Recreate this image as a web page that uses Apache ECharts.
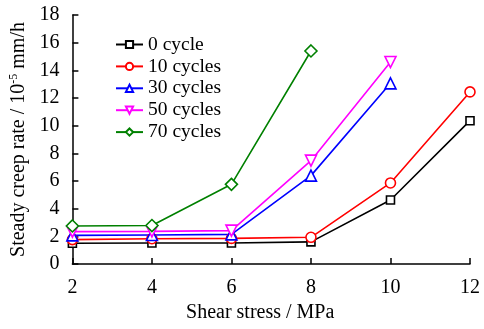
<!DOCTYPE html>
<html><head><meta charset="utf-8">
<script src="https://cdn.jsdelivr.net/npm/echarts@6/dist/echarts.min.js"></script>
<style>html,body{margin:0;padding:0;background:#fff}#c{width:484px;height:329px}</style>
</head><body><div id="c"></div>
<script>
var stress = [2, 4, 6, 8, 10, 12];
var yTicks = [0, 2, 4, 6, 8, 10, 12, 14, 16, 18];
var seriesNames = ['0 cycle', '10 cycles', '30 cycles', '50 cycles', '70 cycles'];
var cycle0  = [1.50, 1.52, 1.52, 1.60, 4.63, 10.36];
var cycle10 = [1.76, 1.83, 1.85, 1.93, 5.86, 12.44];
var cycle30 = [2.07, 2.10, 2.14, 6.39, 13.06];
var cycle50 = [2.34, 2.36, 2.41, 7.47, 14.60];
var cycle70 = [2.75, 2.78, 5.76, 15.40];

var font = '"Liberation Serif","Times New Roman",serif';
var fs = 20;
function pairs(vals){ return vals.map(function(v,i){ return [stress[i], v]; }); }
function mk(name, vals, color, symbol, size, rot){
  return {
    name: name, type: 'line', data: pairs(vals),
    symbol: symbol, symbolSize: size, symbolRotate: rot || 0,
    showAllSymbol: true,
    lineStyle: {color: color, width: 1.6},
    itemStyle: {color: '#fff', borderColor: color, borderWidth: 1.6},
    emphasis: {disabled: true}, animation: false
  };
}
var chart = echarts.init(document.getElementById('c'), null, {renderer: 'canvas'});
chart.setOption({
  backgroundColor: '#fff',
  animation: false,
  grid: {left: 72, right: 14, top: 15, bottom: 65},
  legend: {
    orient: 'vertical', left: 110, top: 29.5,
    itemWidth: 27, itemHeight: 9, itemGap: 1.9,
    textStyle: {fontFamily: font, fontSize: 19.5, color: '#000'},
    data: seriesNames
  },
  xAxis: {
    type: 'value', min: 2, max: 12, interval: 2,
    name: 'Shear stress / MPa', nameLocation: 'middle', nameGap: 35,
    nameTextStyle: {fontFamily: font, fontSize: fs, color: '#000', padding: [0, 22, 0, 0]},
    axisLine: {show: true, lineStyle: {color: '#000', width: 1.5}},
    axisTick: {show: true, inside: true, length: 6, lineStyle: {color: '#000', width: 1.5}},
    axisLabel: {fontFamily: font, fontSize: fs, color: '#000', margin: 14,
      formatter: function(v){ return stress.indexOf(v) >= 0 ? String(v) : ''; }},
    splitLine: {show: false}
  },
  yAxis: {
    type: 'value', min: 0, max: 18, interval: 2,
    name: '{n|Steady creep rate / 10}{s|-5}{n| mm/h}', nameLocation: 'middle', nameGap: 34,
    nameTextStyle: {fontFamily: font, fontSize: fs, color: '#000',
      rich: {n: {fontFamily: font, fontSize: fs, color: '#000'},
             s: {fontFamily: font, fontSize: 12, color: '#000', verticalAlign: 'top', padding: [0,0,9,0]}}},
    axisLine: {show: true, lineStyle: {color: '#000', width: 1.5}},
    axisTick: {show: true, inside: true, length: 6, lineStyle: {color: '#000', width: 1.5}},
    axisLabel: {fontFamily: font, fontSize: fs, color: '#000', margin: 13,
      formatter: function(v){ return yTicks.indexOf(v) >= 0 ? String(v) : ''; }},
    splitLine: {show: false}
  },
  series: [
    mk(seriesNames[0], cycle0, '#000000', 'rect', 8),
    mk(seriesNames[1], cycle10, '#ff0000', 'circle', 10),
    mk(seriesNames[2], cycle30, '#0000ff', 'triangle', 11),
    mk(seriesNames[3], cycle50, '#ff00ff', 'triangle', 11, 180),
    mk(seriesNames[4], cycle70, '#008000', 'diamond', 12)
  ]
});
</script></body></html>
